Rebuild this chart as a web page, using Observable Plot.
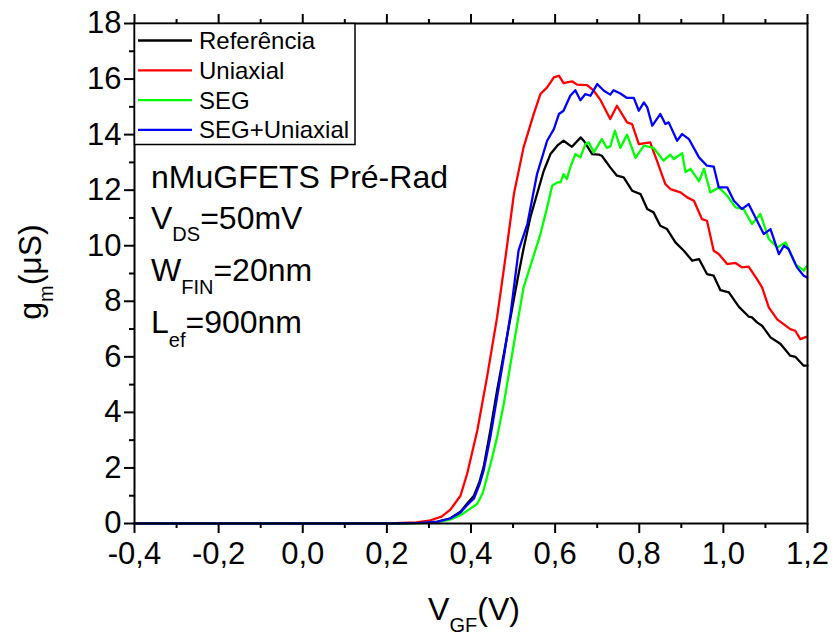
<!DOCTYPE html>
<html>
<head>
<meta charset="utf-8">
<script src="https://cdn.jsdelivr.net/npm/d3@7"></script>
<script src="https://cdn.jsdelivr.net/npm/@observablehq/plot@0.6"></script>
<style>
  html, body { margin: 0; padding: 0; background: white; }
  #chart { width: 833px; height: 635px; }
</style>
</head>
<body>
<div id="chart"></div>
<script>
// ---- Data ----
const seriesNames = ["Referência", "Uniaxial", "SEG", "SEG+Uniaxial"];
const seriesColors = ["#000000", "#ff0000", "#00ff00", "#0000ff"];

const refX = [-0.4, 0.2, 0.28, 0.32, 0.35, 0.375, 0.39, 0.407, 0.42, 0.430, 0.446, 0.462, 0.478, 0.494, 0.510, 0.525, 0.541, 0.557, 0.573, 0.589, 0.605, 0.620, 0.640, 0.661, 0.668, 0.688, 0.704, 0.711, 0.731, 0.747, 0.763, 0.783, 0.803, 0.819, 0.834, 0.850, 0.866, 0.886, 0.906, 0.926, 0.942, 0.961, 0.977, 0.993, 1.013, 1.037, 1.060, 1.068, 1.080, 1.092, 1.112, 1.136, 1.159, 1.171, 1.191, 1.2];
const refY = [0, 0, 0.02, 0.07, 0.18, 0.42, 0.7, 1.0, 1.5, 2.03, 3.35, 4.79, 6.10, 7.42, 8.74, 9.9, 11.02, 11.86, 12.7, 13.3, 13.6, 13.78, 13.56, 13.9, 13.78, 13.3, 13.28, 13.24, 12.82, 12.52, 12.46, 11.98, 11.86, 11.32, 11.2, 10.72, 10.6, 10.12, 9.82, 9.46, 9.52, 8.98, 8.92, 8.40, 8.32, 7.80, 7.45, 7.42, 7.24, 7.12, 6.70, 6.46, 6.04, 6.0, 5.68, 5.68];

const uniX = [-0.4, 0.15, 0.22, 0.27, 0.30, 0.33, 0.351, 0.375, 0.391, 0.415, 0.438, 0.462, 0.482, 0.502, 0.525, 0.549, 0.565, 0.581, 0.597, 0.609, 0.620, 0.640, 0.652, 0.676, 0.692, 0.708, 0.731, 0.747, 0.771, 0.783, 0.799, 0.826, 0.842, 0.862, 0.874, 0.898, 0.914, 0.930, 0.949, 0.961, 0.977, 0.989, 1.009, 1.029, 1.044, 1.060, 1.080, 1.092, 1.108, 1.128, 1.159, 1.171, 1.183, 1.199];
const uniY = [0, 0, 0.01, 0.04, 0.1, 0.25, 0.5, 1.0, 1.8, 3.35, 5.26, 7.42, 9.58, 11.86, 13.54, 14.74, 15.46, 15.7, 16.06, 16.12, 15.85, 15.92, 15.8, 15.78, 15.58, 15.24, 14.56, 15.04, 14.44, 14.38, 13.66, 13.72, 13.06, 12.22, 12.04, 11.92, 11.74, 11.62, 10.96, 10.9, 9.82, 9.70, 9.34, 9.38, 9.22, 9.25, 8.8, 8.50, 7.78, 7.35, 7.0, 6.94, 6.64, 6.73];

const segX = [-0.4, 0.2, 0.28, 0.32, 0.35, 0.375, 0.395, 0.415, 0.428, 0.438, 0.450, 0.462, 0.478, 0.494, 0.510, 0.525, 0.549, 0.565, 0.581, 0.593, 0.605, 0.613, 0.620, 0.628, 0.636, 0.648, 0.660, 0.672, 0.680, 0.692, 0.711, 0.723, 0.731, 0.742, 0.755, 0.771, 0.791, 0.811, 0.834, 0.858, 0.874, 0.882, 0.902, 0.910, 0.922, 0.942, 0.954, 0.969, 0.989, 1.009, 1.029, 1.048, 1.068, 1.088, 1.108, 1.128, 1.148, 1.171, 1.191, 1.199];
const segY = [0, 0, 0.015, 0.05, 0.14, 0.3, 0.5, 0.71, 1.1, 1.67, 2.35, 3.11, 4.31, 5.75, 7.19, 8.50, 9.64, 10.42, 11.38, 12.16, 12.28, 12.28, 12.58, 12.4, 12.82, 13.3, 13.18, 13.66, 13.72, 13.36, 13.84, 13.52, 13.57, 14.14, 13.52, 14.0, 13.16, 13.6, 13.52, 13.06, 13.28, 13.12, 13.33, 12.65, 12.77, 12.32, 12.77, 11.92, 12.1, 11.8, 11.38, 11.32, 10.78, 11.14, 10.24, 9.94, 10.12, 9.34, 9.10, 9.28];

const segUniX = [-0.4, 0.2, 0.28, 0.32, 0.35, 0.375, 0.39, 0.407, 0.42, 0.430, 0.446, 0.462, 0.478, 0.494, 0.513, 0.534, 0.557, 0.581, 0.597, 0.609, 0.620, 0.636, 0.648, 0.660, 0.672, 0.684, 0.700, 0.716, 0.731, 0.739, 0.755, 0.771, 0.787, 0.799, 0.811, 0.819, 0.831, 0.850, 0.862, 0.870, 0.890, 0.902, 0.918, 0.942, 0.961, 0.977, 0.989, 1.009, 1.025, 1.044, 1.060, 1.072, 1.096, 1.112, 1.132, 1.144, 1.155, 1.175, 1.191, 1.199];
const segUniY = [0, 0, 0.02, 0.06, 0.18, 0.4, 0.65, 0.9, 1.4, 1.91, 3.11, 4.55, 5.99, 7.54, 9.82, 10.78, 12.58, 13.78, 14.2, 14.74, 14.86, 15.4, 15.6, 15.24, 15.46, 15.4, 15.82, 15.58, 15.44, 15.6, 15.48, 15.32, 15.32, 14.86, 15.16, 14.98, 14.32, 14.74, 14.38, 14.44, 13.78, 14.02, 13.84, 13.18, 12.88, 12.85, 12.1, 12.1, 11.62, 11.32, 11.5, 11.14, 10.42, 10.6, 9.70, 10.0, 9.88, 9.22, 8.92, 8.86];

const xTicks = [-0.4, -0.2, 0.0, 0.2, 0.4, 0.6, 0.8, 1.0, 1.2];
const xMinor = [-0.3, -0.1, 0.1, 0.3, 0.5, 0.7, 0.9, 1.1];
const yTicks = [0, 2, 4, 6, 8, 10, 12, 14, 16, 18];
const yMinor = [1, 3, 5, 7, 9, 11, 13, 15, 17];

// ---- Build ----
const xs = [refX, uniX, segX, segUniX];
const ys = [refY, uniY, segY, segUniY];
const lineData = seriesNames.map((name, i) => xs[i].map((x, j) => ({x, y: ys[i][j], name})));

const fmt = v => v.toFixed(1).replace(".", ",");
const FONT = "'Liberation Sans', Arial, sans-serif";

const plot = Plot.plot({
  width: 833, height: 635,
  marginLeft: 134, marginRight: 26, marginTop: 23, marginBottom: 112,
  x: {domain: [-0.4, 1.2]},
  y: {domain: [0, 18]},
  style: {fontFamily: FONT, fontSize: "31px", color: "black", background: "white", overflow: "visible"},
  marks: [
    ...lineData.map((d, i) => Plot.line(d, {x: "x", y: "y", stroke: seriesColors[i], strokeWidth: 2.3})),
    Plot.frame({stroke: "black", strokeWidth: 2}),
    Plot.axisX({ticks: xTicks, tickSize: 10, tickPadding: 8, tickFormat: fmt, strokeWidth: 2, fontSize: 31, label: null}),
    Plot.axisX({ticks: xMinor, tickSize: 5, tickFormat: () => "", strokeWidth: 2, label: null}),
    Plot.axisX({anchor: "top", ticks: xTicks, tickSize: 10, tickFormat: () => "", strokeWidth: 2, label: null}),
    Plot.axisX({anchor: "top", ticks: xMinor, tickSize: 5, tickFormat: () => "", strokeWidth: 2, label: null}),
    Plot.axisY({ticks: yTicks, tickSize: 10, tickPadding: 3, strokeWidth: 2, fontSize: 31, label: null}),
    Plot.axisY({ticks: yMinor, tickSize: 5, tickFormat: () => "", strokeWidth: 2, label: null})
  ]
});
document.getElementById("chart").appendChild(plot);

const svg = d3.select(plot);

// Legend
const lg = svg.append("g").attr("font-family", FONT).attr("font-size", 24).attr("text-anchor", "start");
lg.append("rect").attr("x", 134.5).attr("y", 23.5).attr("width", 220.5).attr("height", 121)
  .attr("fill", "white").attr("stroke", "black").attr("stroke-width", 1.5);
seriesNames.forEach((name, i) => {
  const yy = 40.5 + i * 29.8;
  lg.append("line").attr("x1", 138).attr("x2", 192).attr("y1", yy).attr("y2", yy)
    .attr("stroke", seriesColors[i]).attr("stroke-width", 2.3);
  lg.append("text").attr("x", 199).attr("y", yy + 8.5).attr("fill", "black").text(name);
});

// Annotation block
const ann = svg.append("g").attr("font-family", FONT).attr("font-size", 32).attr("fill", "black").attr("text-anchor", "start");
ann.append("text").attr("x", 151).attr("y", 188).text("nMuGFETS Pré-Rad");
function subText(g, x, y, main, sub, rest, size, shift) {
  const t = g.append("text").attr("x", x).attr("y", y);
  t.append("tspan").text(main);
  t.append("tspan").attr("font-size", size).attr("dy", shift).text(sub);
  t.append("tspan").attr("dy", -shift).text(rest);
  return t;
}
subText(ann, 151, 229, "V", "DS", "=50mV", 20, 12);
subText(ann, 151, 281, "W", "FIN", "=20nm", 20, 13);
subText(ann, 151, 333, "L", "ef", "=900nm", 20, 14);

// Axis titles
const tg = svg.append("g").attr("font-family", FONT).attr("font-size", 32).attr("fill", "black");
const xt = subText(tg, 474, 620, "V", "GF", "(V)", 20, 12);
xt.attr("text-anchor", "middle");
const yt = subText(tg, 0, 0, "g", "m", "(μS)", 20, 12);
yt.attr("text-anchor", "middle").attr("transform", "translate(41,272) rotate(-90)");
</script>
</body>
</html>
